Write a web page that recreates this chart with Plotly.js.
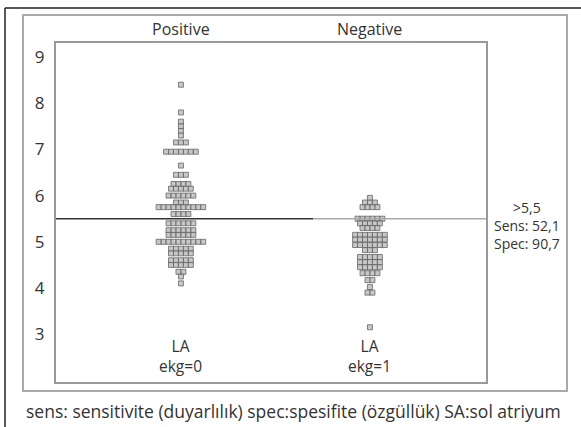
<!DOCTYPE html>
<html>
<head>
<meta charset="utf-8">
<script src="https://cdn.plot.ly/plotly-3.0.1.min.js"></script>
<style>html,body{margin:0;padding:0;background:#fff;}#chart{width:581px;height:427px;}</style>
</head>
<body>
<div id="chart"></div>
<script>
// ---- data ----
const categories = ["Positive", "Negative"];
const categoryLabels = ["LA<br>ekg=0", "LA<br>ekg=1"];
// [value, count] levels of the dot plot
const positiveLevels = [
  [8.4,1],[7.8,1],[7.6,1],[7.5,1],[7.4,1],[7.3,1],[7.15,3],[6.95,7],[6.65,1],
  [6.45,3],[6.25,4],[6.15,5],[6.0,6],[5.85,3],[5.75,10],[5.6,4],[5.4,6],
  [5.25,6],[5.15,6],[5.0,10],[4.85,5],[4.75,5],[4.6,5],[4.5,5],[4.35,2],
  [4.25,1],[4.1,1]
];
const negativeLevels = [
  [5.95,1],[5.85,3],[5.75,4],[5.5,6],[5.4,5],[5.3,4],[5.15,7],[5.05,7],
  [4.93,7],[4.82,3],[4.67,5],[4.56,5],[4.45,5],[4.32,4],[4.17,2],[4.02,1],
  [3.9,2],[3.15,1]
];
const cutoff = 5.5;
const cutoffText = [">5,5", "Sens: 52,1", "Spec: 90,7"];
const yTicks = [3,4,5,6,7,8,9];
const caption = "sens: sensitivite (duyarlılık) spec:spesifite (özgüllük) SA:sol atriyum";

// ---- layout geometry ----
const W = 581, H = 427;
const L = 56, R = 486, T = 43, B = 382;
const px = x => (x - L) / (R - L);
const py = y => (B - y) / (B - T);
const step = 0.0262; // horizontal dot spacing in category units

function dotTrace(levels, idx) {
  const xs = [], ys = [];
  levels.forEach(([v, n]) => {
    for (let i = 0; i < n; i++) {
      xs.push(idx + (i - (n - 1) / 2) * step);
      ys.push(v);
    }
  });
  return {
    x: xs, y: ys, type: 'scatter', mode: 'markers', hoverinfo: 'none',
    marker: {symbol: 'square', size: 5, color: 'rgba(175,175,175,0.7)',
             line: {color: '#666', width: 0.8}}
  };
}

const traces = [dotTrace(positiveLevels, 0), dotTrace(negativeLevels, 1)];

const font = {family: '"Open Sans", "Noto Sans", sans-serif', size: 16, color: '#333'};
const xr = [-0.661, 1.614];

const annotations = [];
categories.forEach((c, i) => {
  annotations.push({x: i, xref: 'x', y: py(29), yref: 'paper', text: c, showarrow: false,
    xanchor: 'center', yanchor: 'middle', font: {...font, size: 16}});
  annotations.push({x: i, xref: 'x', y: py(356), yref: 'paper', text: categoryLabels[i], showarrow: false,
    xanchor: 'center', yanchor: 'middle', align: 'center', font: {...font, size: 15.5}});
});
annotations.push({x: px(527), xref: 'paper', y: py(226), yref: 'paper', text: cutoffText.join('<br>'),
  showarrow: false, xanchor: 'center', yanchor: 'middle', align: 'center', font: {...font, size: 14}});
annotations.push({x: px(24), xref: 'paper', y: py(411), yref: 'paper', text: caption,
  showarrow: false, xanchor: 'left', yanchor: 'middle', font: {...font, size: 17.5}});

const shapes = [
  // outer black frame (left and top)
  {type: 'line', xref: 'paper', yref: 'paper', x0: px(5), x1: px(5), y0: py(8), y1: py(430),
   line: {color: '#222', width: 1.5}},
  {type: 'line', xref: 'paper', yref: 'paper', x0: px(5), x1: px(585), y0: py(8), y1: py(8),
   line: {color: '#222', width: 1.5}},
  // gray panel
  {type: 'rect', xref: 'paper', yref: 'paper', x0: px(23), x1: px(567), y0: py(15), y1: py(391),
   line: {color: '#aaa', width: 2}},
  // cutoff line
  {type: 'line', xref: 'x', yref: 'y', x0: xr[0], x1: 0.7, y0: cutoff, y1: cutoff,
   line: {color: '#333', width: 1.5}},
  {type: 'line', xref: 'x', yref: 'y', x0: 0.7, x1: xr[1], y0: cutoff, y1: cutoff,
   line: {color: '#aaa', width: 1.5}}
];

const layout = {
  width: W, height: H,
  margin: {l: L, r: W - R, t: T, b: H - B, pad: 0},
  paper_bgcolor: '#fff', plot_bgcolor: '#fff',
  showlegend: false,
  font: font,
  xaxis: {range: xr, showgrid: false, zeroline: false, showticklabels: false, ticks: '',
          showline: true, mirror: true, linecolor: '#999', linewidth: 2, fixedrange: true},
  yaxis: {range: [1.965, 9.303], tickvals: yTicks, ticktext: yTicks.map(String),
          showgrid: false, zeroline: false, ticks: 'outside', ticklen: 6,
          tickcolor: 'rgba(0,0,0,0)', tickfont: {...font, size: 17},
          showline: true, mirror: true, linecolor: '#999', linewidth: 2, fixedrange: true},
  annotations: annotations,
  shapes: shapes
};

Plotly.newPlot('chart', traces, layout, {displayModeBar: false, staticPlot: true});
</script>
</body>
</html>
